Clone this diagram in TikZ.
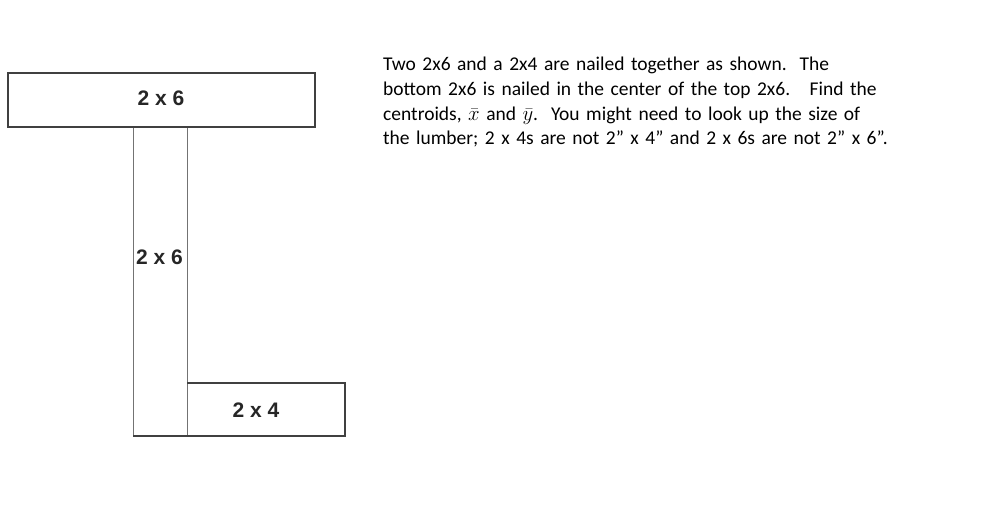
\documentclass[tikz,border=0pt]{standalone}
\usepackage{fontspec}
\setmainfont{Carlito}
\newfontfamily\labelfont{Liberation Sans}
\begin{document}
\begin{tikzpicture}[x=1pt,y=-1pt,
  board/.style={draw=black!75, line width=1.8pt},
  thinboard/.style={draw=black!55, line width=1pt},
  lbl/.style={font=\labelfont\bfseries\fontsize{21}{24}\selectfont, text=black!85, inner sep=0pt}]
\useasboundingbox (0,0) rectangle (984,523);
% vertical 2x6
\draw[thinboard] (133,127) rectangle (187,436);
% bottom 2x4
\draw[board] (187,383) -- (345,383) -- (345,436) -- (133,436);
% top 2x6
\node[board, fill=white, minimum width=307pt, minimum height=54pt, inner sep=0pt] (top) at (161.5,100) {};
\node[lbl] (toplbl) at (161,98) {2 x 6};
\node[lbl] (midlbl) at (159.5,257) {2 x 6};
\node[lbl] (botlbl) at (256,410) {2 x 4};
\node[anchor=north west, align=left, inner sep=0pt, text width=600pt,
  font=\fontsize{19.5}{24.7}\selectfont] (txt) at (383,57)
 {Two 2x6 and a 2x4 are nailed together as shown.\ \ The\\
  bottom 2x6 is nailed in the center of the top 2x6.\ \ \ Find the\\
  centroids, $\bar{x}$ and $\bar{y}$.\ \ You might need to look up the size of\\
  the lumber; 2 x 4s are not 2” x 4” and 2 x 6s are not 2” x 6”.};
\end{tikzpicture}
\end{document}
